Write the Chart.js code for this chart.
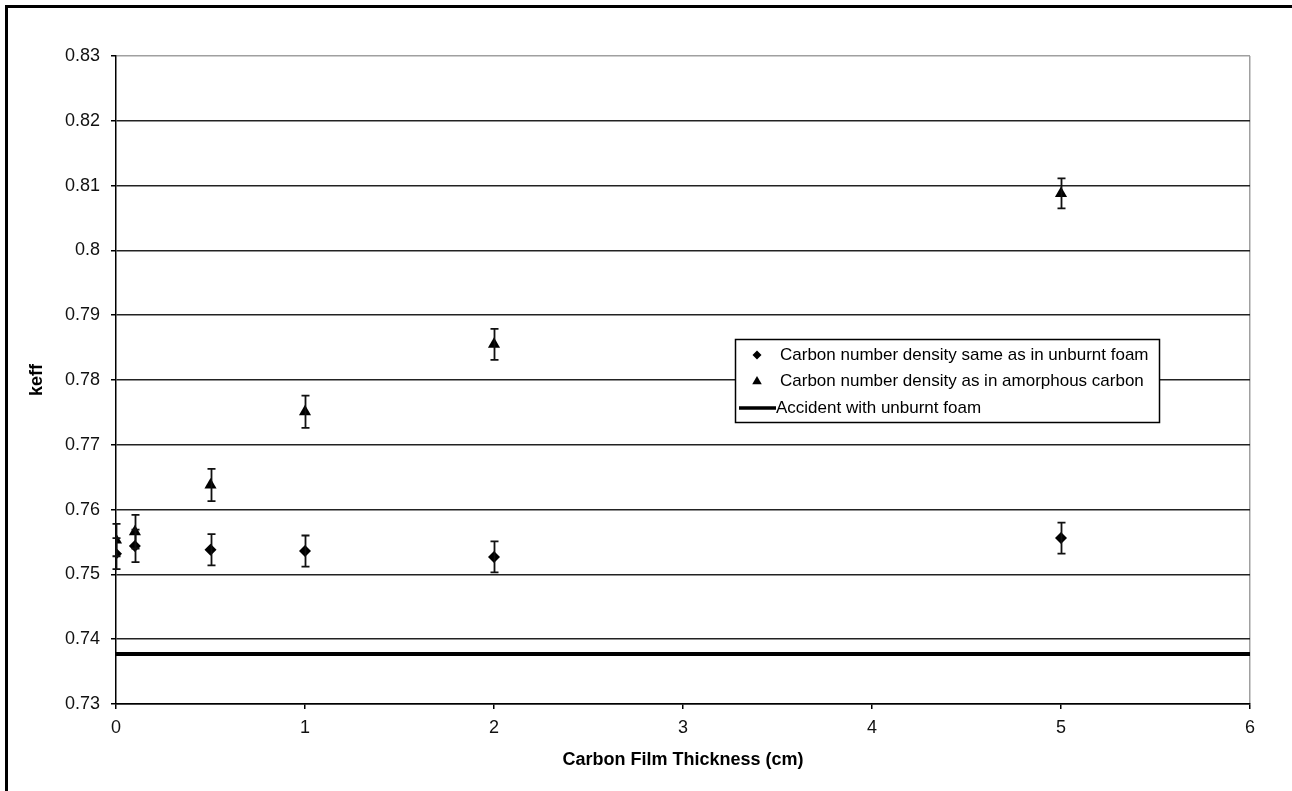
<!DOCTYPE html>
<html>
<head>
<meta charset="utf-8">
<script src="https://cdn.jsdelivr.net/npm/chart.js@4.4.0/dist/chart.umd.min.js"></script>
<style>
  html, body { margin: 0; padding: 0; background: #fff; }
  #wrap { width: 1292px; height: 791px; position: relative; }
</style>
</head>
<body>
<div id="wrap"><canvas id="keffChart" width="1292" height="791"></canvas></div>
<script>
// data
const thickness = [0, 0.1, 0.5, 1, 2, 5];
const keffSame = [0.7532, 0.7544, 0.7538, 0.7536, 0.7527, 0.7556];
const errSame = [0.0024, 0.0025, 0.0024, 0.0024, 0.0024, 0.0024];
const keffAmorph = [0.7553, 0.7566, 0.7638, 0.7751, 0.7855, 0.8088];
const errAmorph = [0.0025, 0.0026, 0.0025, 0.0025, 0.0024, 0.0023];
const accidentX = [0, 6];
const accidentKeff = [0.7377, 0.7377];
const yTicks = [0.73, 0.74, 0.75, 0.76, 0.77, 0.78, 0.79, 0.8, 0.81, 0.82, 0.83];
const xTicks = [0, 1, 2, 3, 4, 5, 6];

const FONT = "'Liberation Sans', Arial, sans-serif";

const toPoints = (xs, ys) => xs.map((x, i) => ({ x: x, y: ys[i] }));

function drawMarker(ctx, style, x, y) {
  ctx.beginPath();
  if (style === 'rectRot') {
    const r = 4.5;
    ctx.moveTo(x, y - r);
    ctx.lineTo(x + r, y);
    ctx.lineTo(x, y + r);
    ctx.lineTo(x - r, y);
  } else {
    const r = 5.5;
    ctx.moveTo(x, y - r);
    ctx.lineTo(x + r * 0.87, y + r * 0.5);
    ctx.lineTo(x - r * 0.87, y + r * 0.5);
  }
  ctx.closePath();
  ctx.fill();
}

// outer frame
const framePlugin = {
  id: 'frame',
  beforeDraw(chart) {
    const ctx = chart.ctx;
    ctx.save();
    ctx.fillStyle = '#fff';
    ctx.fillRect(0, 0, chart.width, chart.height);
    ctx.strokeStyle = '#000';
    ctx.lineWidth = 3;
    ctx.strokeRect(6.5, 6.5, 2000, 2000);
    ctx.restore();
  }
};

// error bars from dataset.errors
const errorBarPlugin = {
  id: 'errorBars',
  afterDatasetsDraw(chart) {
    const ctx = chart.ctx;
    const xs = chart.scales.x, ys = chart.scales.y;
    ctx.save();
    ctx.strokeStyle = '#111';
    ctx.lineWidth = 1.8;
    chart.data.datasets.forEach(ds => {
      if (!ds.errors) return;
      ds.data.forEach((p, i) => {
        const px = Math.round(xs.getPixelForValue(p.x)) + 0.5;
        const top = ys.getPixelForValue(p.y + ds.errors[i]);
        const bot = ys.getPixelForValue(p.y - ds.errors[i]);
        ctx.beginPath();
        ctx.moveTo(px, top); ctx.lineTo(px, bot);
        ctx.moveTo(px - 4, top); ctx.lineTo(px + 4, top);
        ctx.moveTo(px - 4, bot); ctx.lineTo(px + 4, bot);
        ctx.stroke();
      });
    });
    ctx.restore();
  }
};

// boxed legend inside the plot
const boxLegendPlugin = {
  id: 'boxLegend',
  afterDraw(chart) {
    const ctx = chart.ctx;
    const bx = 735, by = 339, bw = 424, bh = 83;
    ctx.save();
    ctx.fillStyle = '#fff';
    ctx.fillRect(bx, by, bw, bh);
    ctx.strokeStyle = '#000';
    ctx.lineWidth = 1.5;
    ctx.strokeRect(bx + 0.5, by + 0.5, bw, bh);
    ctx.font = '17px ' + FONT;
    ctx.textBaseline = 'middle';
    ctx.fillStyle = '#000';
    chart.data.datasets.forEach((ds, i) => {
      const ry = by + 16 + i * 26.5;
      if (ds.showLine) {
        ctx.lineWidth = 3.5;
        ctx.beginPath();
        ctx.moveTo(739, ry); ctx.lineTo(776, ry);
        ctx.stroke();
        ctx.fillText(ds.label, 776, ry);
      } else {
        drawMarker(ctx, ds.pointStyle, 757, ry);
        ctx.fillText(ds.label, 780, ry);
      }
    });
    ctx.restore();
  }
};

const ctx = document.getElementById('keffChart').getContext('2d');
const keffChart = new Chart(ctx, {
  type: 'scatter',
  data: {
    datasets: [
      {
        label: 'Carbon number density same as in unburnt foam',
        data: toPoints(thickness, keffSame),
        errors: errSame,
        pointStyle: 'rectRot',
        pointRadius: 6,
        backgroundColor: '#000',
        borderColor: '#000',
        borderWidth: 0
      },
      {
        label: 'Carbon number density as in amorphous carbon',
        data: toPoints(thickness, keffAmorph),
        errors: errAmorph,
        pointStyle: 'triangle',
        pointRadius: 7,
        backgroundColor: '#000',
        borderColor: '#000',
        borderWidth: 0
      },
      {
        label: 'Accident with unburnt foam',
        data: toPoints(accidentX, accidentKeff),
        showLine: true,
        borderColor: '#000',
        borderWidth: 4,
        pointRadius: 0
      }
    ]
  },
  plugins: [framePlugin, errorBarPlugin, boxLegendPlugin],
  options: {
    responsive: false,
    animation: false,
    events: [],
    layout: { padding: { left: 0, top: 56, right: 42, bottom: 0 } },
    plugins: {
      legend: { display: false },
      tooltip: { enabled: false }
    },
    scales: {
      x: {
        type: 'linear',
        min: 0,
        max: 6,
        afterFit: s => { s.height = 87; },
        afterBuildTicks: s => { s.ticks = xTicks.map(v => ({ value: v })); },
        ticks: { color: '#111', font: { family: FONT, size: 18 }, padding: 8 },
        grid: {
          color: c => (c.tick && c.tick.value === 6 ? '#a0a0a0' : 'rgba(0,0,0,0)'),
          lineWidth: 1.5,
          tickColor: '#000',
          tickLength: 5
        },
        border: { color: '#000', width: 1.5 },
        title: {
          display: true,
          text: 'Carbon Film Thickness (cm)',
          color: '#000',
          font: { family: FONT, size: 18, weight: 'bold' },
          padding: { top: 0, bottom: 20 }
        }
      },
      y: {
        min: 0.73,
        max: 0.83,
        afterFit: s => { s.width = 116; },
        afterBuildTicks: s => { s.ticks = yTicks.map(v => ({ value: v })); },
        ticks: {
          color: '#111',
          font: { family: FONT, size: 18 },
          padding: 11,
          callback: v => String(parseFloat(v.toFixed(2)))
        },
        grid: {
          color: c => (c.tick && Math.abs(c.tick.value - 0.83) < 1e-6 ? '#a0a0a0' : '#222'),
          lineWidth: 1.5,
          tickColor: '#000',
          tickLength: 5
        },
        border: { color: '#000', width: 1.5 },
        title: {
          display: true,
          text: 'keff',
          color: '#000',
          font: { family: FONT, size: 18, weight: 'bold' },
          padding: { top: 26, bottom: 0 }
        }
      }
    }
  }
});
</script>
</body>
</html>
